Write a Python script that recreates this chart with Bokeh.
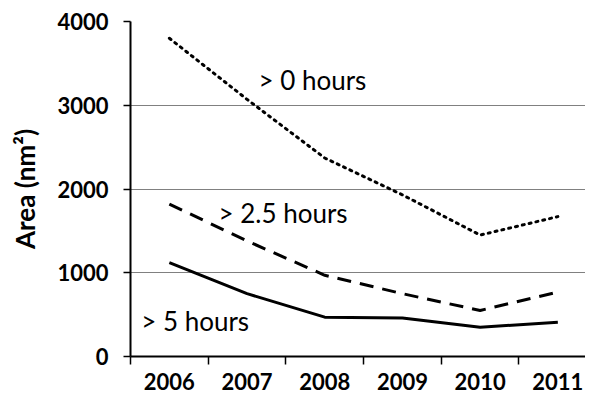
from bokeh.plotting import figure
from bokeh.models import Range1d, FixedTicker, Label
from bokeh.embed import file_html
from bokeh.resources import INLINE

years = ["2006", "2007", "2008", "2009", "2010", "2011"]
gt0 = [3800, 3070, 2370, 1930, 1450, 1670]
gt25 = [1820, 1380, 970, 750, 550, 770]
gt5 = [1120, 750, 470, 460, 350, 410]
y_ticks = [0, 1000, 2000, 3000, 4000]

xs = [i + 0.5 for i in range(len(years))]
bounds = [float(i) for i in range(len(years) + 1)]

p = figure(width=585, height=393, output_backend="svg", toolbar_location=None,
           x_range=Range1d(0, 5.856), y_range=Range1d(0, 4000),
           min_border_left=130, min_border_right=0, min_border_top=21, min_border_bottom=37)
p.outline_line_color = None
p.xgrid.grid_line_color = None
p.ygrid.grid_line_color = "#808080"
p.ygrid.grid_line_width = 1

p.line(xs, gt0, line_color="black", line_width=3, line_dash="2 5", line_cap="round")
p.line(xs, gt25, line_color="black", line_width=3, line_dash="14 9")
p.line(xs, gt5, line_color="black", line_width=3)

font = "Lato"
p.xaxis.ticker = FixedTicker(ticks=xs, minor_ticks=bounds)
p.xaxis.major_label_overrides = {x: y for x, y in zip(xs, years)}
p.xaxis.major_tick_out = 0
p.xaxis.major_tick_in = 0
p.xaxis.minor_tick_out = 8
p.xaxis.minor_tick_in = 0
p.xaxis.minor_tick_line_color = "black"
p.xaxis.minor_tick_line_width = 1.5
p.xaxis.major_label_standoff = 8

p.yaxis.ticker = FixedTicker(ticks=y_ticks)
p.yaxis.major_tick_out = 7
p.yaxis.major_tick_in = 0
p.yaxis.minor_tick_line_color = None
p.yaxis.major_label_standoff = 15
p.yaxis.axis_label = "Area (nm²)"
p.yaxis.axis_label_standoff = 13

for ax in (p.xaxis, p.yaxis):
    ax.axis_line_color = "black"
    ax.axis_line_width = 2
    ax.major_tick_line_color = "black"
    ax.major_tick_line_width = 1.5
    ax.major_label_text_font = font
    ax.major_label_text_font_style = "bold"
    ax.major_label_text_font_size = "22px"
    ax.major_label_text_color = "black"
    ax.axis_label_text_font = font
    ax.axis_label_text_font_style = "bold"
    ax.axis_label_text_font_size = "26px"
    ax.axis_label_text_color = "black"

labels = [("> 0 hours", 1.647, 3305), ("> 2.5 hours", 1.133, 1718), ("> 5 hours", 0.138, 418)]
for t, lx, ly in labels:
    p.add_layout(Label(x=lx, y=ly, text=t, text_font=font, text_font_size="26px",
                       text_baseline="middle", text_align="left", text_color="black"))

open("out.html", "w").write(file_html(p, INLINE))
